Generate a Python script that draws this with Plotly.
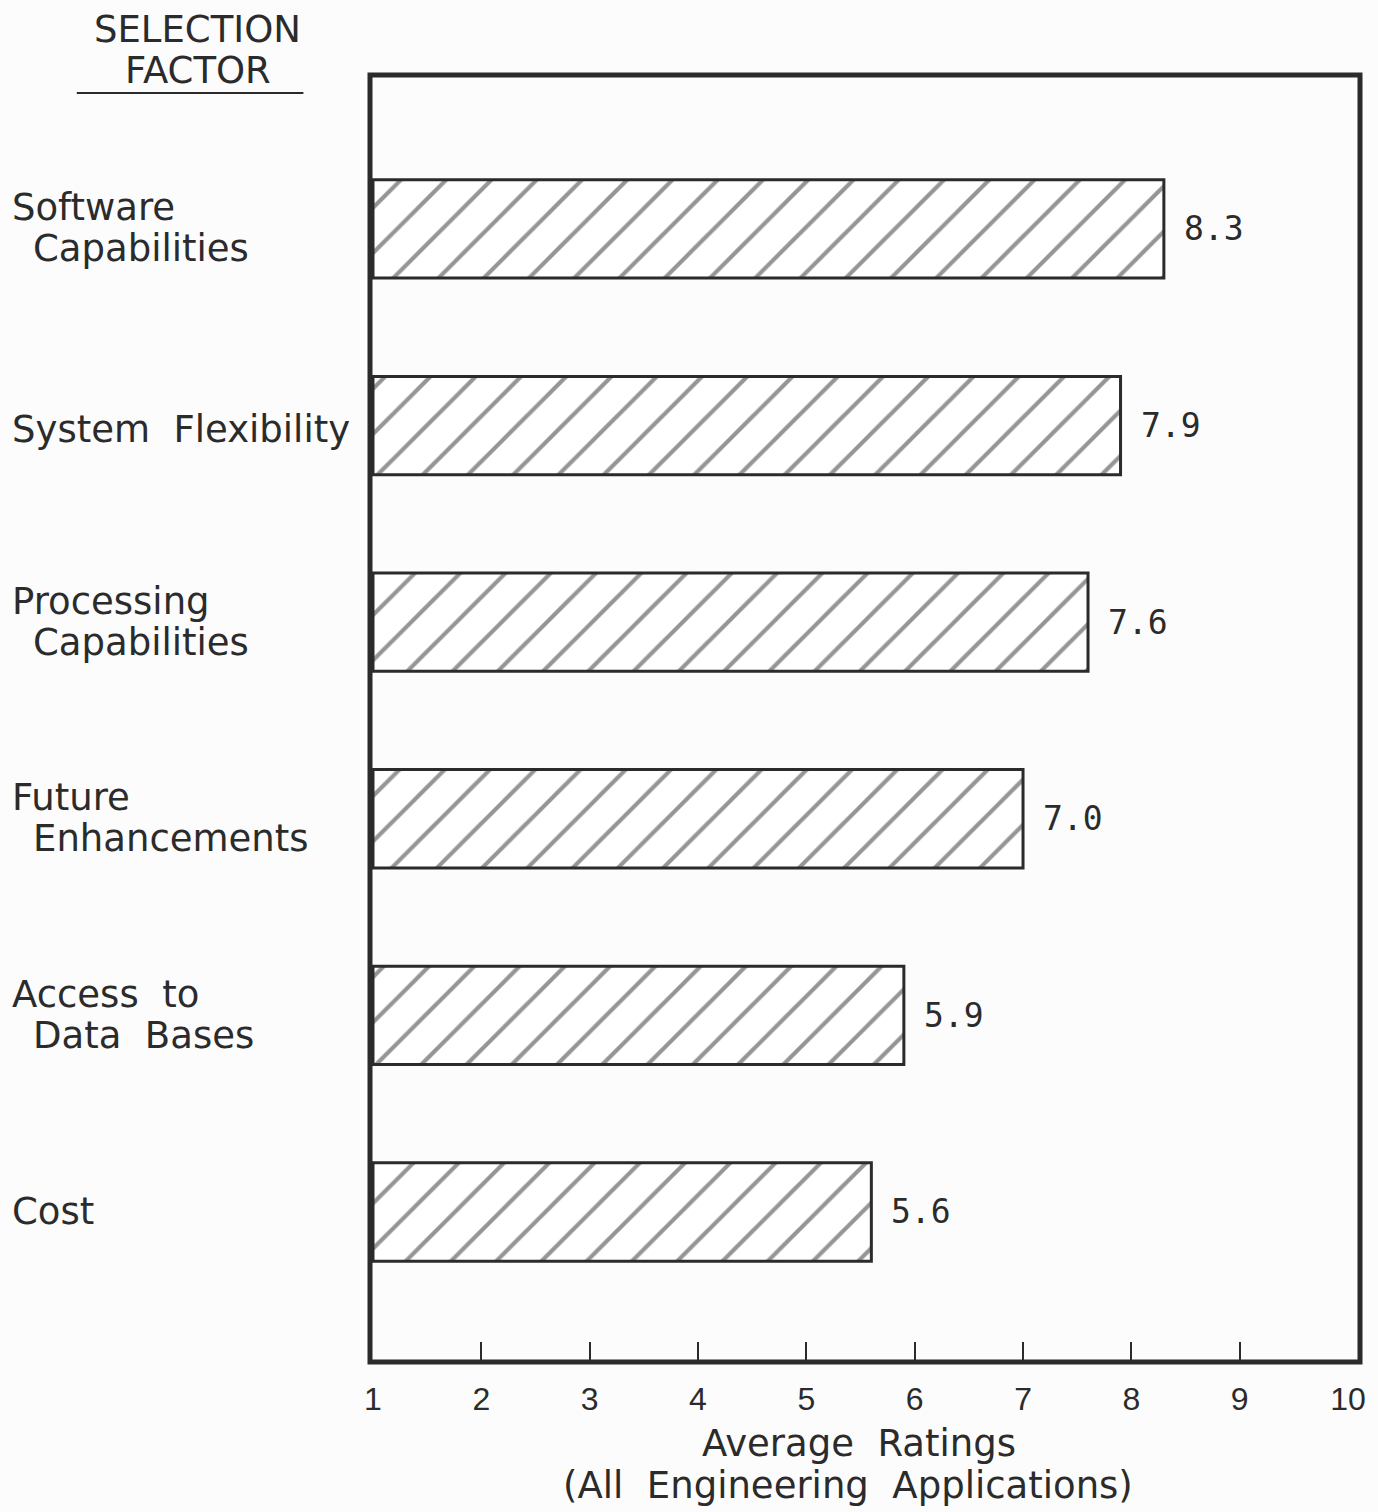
import plotly.graph_objects as go

# ---- data ----
categories = ["Software Capabilities", "System Flexibility", "Processing Capabilities",
              "Future Enhancements", "Access to Data Bases", "Cost"]
label_lines = [["Software", "Capabilities"], ["System  Flexibility"], ["Processing", "Capabilities"],
               ["Future", "Enhancements"], ["Access  to", "Data  Bases"], ["Cost"]]
ratings = [8.3, 7.9, 7.6, 7.0, 5.9, 5.6]
rating_text = ["8.3", "7.9", "7.6", "7.0", "5.9", "5.6"]
tick_values = [1, 2, 3, 4, 5, 6, 7, 8, 9, 10]
tick_labels = ["1", "2", "3", "4", "5", "6", "7", "8", "9", "10"]
tick_marks = [2, 3, 4, 5, 6, 7, 8, 9]
axis_title_lines = ["Average  Ratings", "(All  Engineering  Applications)"]
header_lines = ["SELECTION", "FACTOR"]

W, H = 1378, 1512
L, R, T, B = 370, 12, 75, 150
PW, PH = W - L - R, H - T - B

def px_x(px):
    return (px - L) / PW

def px_y(py):
    return (H - B - py) / PH

ink = "#2b2b2b"
label_font = dict(family="DejaVu Sans", size=37, color=ink)
value_font = dict(family="DejaVu Sans Mono", size=33, color=ink)

ypos = list(range(len(categories)))
base = 1

fig = go.Figure()
fig.add_trace(go.Bar(
    y=ypos,
    x=[v - base for v in ratings],
    base=base,
    orientation="h",
    width=0.5,
    marker=dict(
        color="white",
        line=dict(color=ink, width=3),
        pattern=dict(shape="/", fgcolor=ink, bgcolor="white", size=32, solidity=0.13),
    ),
    hoverinfo="skip",
    showlegend=False,
))
fig.add_trace(go.Scatter(x=[tick_marks[0]], y=[0], xaxis="x2", mode="markers",
                         marker=dict(opacity=0), hoverinfo="skip", showlegend=False))

annotations = []
for i, (v, t) in enumerate(zip(ratings, rating_text)):
    annotations.append(dict(x=v, y=i, xref="x", yref="y", text=t, showarrow=False,
                            xanchor="left", yanchor="middle", xshift=18, font=value_font))

line_offsets = {1: [4], 2: [-21, 20]}
for i, lines in enumerate(label_lines):
    offs = line_offsets[len(lines)] if lines != ["Cost"] else [0]
    for j, (ln, off) in enumerate(zip(lines, offs)):
        annotations.append(dict(x=px_x(8 if j == 0 else 29), y=i, xref="paper", yref="y",
                                text=ln, showarrow=False, xanchor="left", yanchor="middle",
                                yshift=-off, font=label_font))

annotations.append(dict(x=px_x(196), y=px_y(30), xref="paper", yref="paper", text=header_lines[0],
                        showarrow=False, xanchor="center", yanchor="middle", font=label_font))
annotations.append(dict(x=px_x(197), y=px_y(70), xref="paper", yref="paper", text=header_lines[1],
                        showarrow=False, xanchor="center", yanchor="middle", font=label_font))

annotations.append(dict(x=px_x(862), y=px_y(1443), xref="paper", yref="paper", text=axis_title_lines[0],
                        showarrow=False, xanchor="center", yanchor="middle", font=label_font))
annotations.append(dict(x=px_x(851), y=px_y(1485), xref="paper", yref="paper", text=axis_title_lines[1],
                        showarrow=False, xanchor="center", yanchor="middle", font=label_font))

shapes = [
    dict(type="rect", xref="paper", yref="paper", x0=0, x1=1, y0=0, y1=1,
         line=dict(color=ink, width=5)),
    dict(type="line", xref="paper", yref="paper", x0=px_x(75), x1=px_x(303),
         y0=px_y(93), y1=px_y(93), line=dict(color=ink, width=2)),
]

x0 = 1 - 3 / 108.8
x1 = 10 + 12 / 108.8

fig.update_layout(
    width=W, height=H,
    margin=dict(l=L, r=R, t=T, b=B, pad=0),
    paper_bgcolor="#fcfcfc",
    plot_bgcolor="#fcfcfc",
    annotations=annotations,
    shapes=shapes,
    xaxis=dict(range=[x0, x1], tickvals=tick_values, ticktext=tick_labels,
               ticks="", showgrid=False, zeroline=False, showline=False,
               ticklabelstandoff=15,
               tickfont=dict(family="Liberation Sans Narrow, Liberation Sans", size=32, color=ink)),
    xaxis2=dict(range=[x0, x1], overlaying="x", side="bottom", tickvals=tick_marks,
                showticklabels=False, ticks="inside", ticklen=20, tickwidth=2, tickcolor=ink,
                showgrid=False, zeroline=False, showline=False),
    yaxis=dict(range=[5.763, -0.783], showticklabels=False, ticks="",
               showgrid=False, zeroline=False, showline=False),
)

fig.write_html("out.html", config={"displayModeBar": False},
               post_script="document.body.style.margin='0';")
